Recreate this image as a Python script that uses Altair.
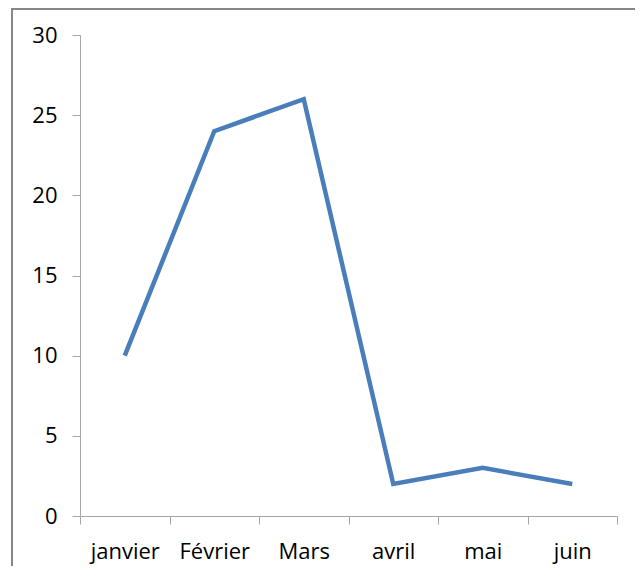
import altair as alt
import pandas as pd

months = ["janvier", "Février", "Mars", "avril", "mai", "juin"]
values = [10, 24, 26, 2, 3, 2]

df = pd.DataFrame({"mois": months, "valeur": values})

FONT = "Open Sans"
AXIS_COLOR = "#a6a6a6"

line = alt.Chart(df).mark_line(color="#4a7ebb", strokeWidth=4.5, strokeJoin="miter").encode(
    x=alt.X("mois:N", sort=months,
            scale=alt.Scale(type="band", paddingInner=0, paddingOuter=0),
            axis=alt.Axis(title=None, labelAngle=0, tickBand="extent", tickSize=8,
                          labelPadding=34, labelBaseline="alphabetic",
                          labelFont=FONT, labelFontSize=22, labelColor="#000000",
                          domainColor=AXIS_COLOR, tickColor=AXIS_COLOR,
                          domainWidth=1, tickWidth=1, grid=False)),
    y=alt.Y("valeur:Q",
            scale=alt.Scale(domain=[0, 30], nice=False, zero=True),
            axis=alt.Axis(title=None, values=[0, 5, 10, 15, 20, 25, 30], tickSize=8,
                          labelPadding=15, labelFont=FONT, labelFontSize=22,
                          labelColor="#000000", domainColor=AXIS_COLOR,
                          tickColor=AXIS_COLOR, domainWidth=1, tickWidth=1, grid=False)),
)

border = alt.Chart(pd.DataFrame({"a": [0]})).mark_rect(
    fill="transparent", stroke="#878787", strokeWidth=2
).encode(
    x=alt.value(-68), x2=alt.value(560), y=alt.value(-26), y2=alt.value(535)
)

chart = alt.layer(border, line).properties(
    width=537, height=481,
    autosize=alt.AutoSizeParams(type="none"),
    padding={"left": 72, "top": 27, "right": 18, "bottom": 50},
    background="white",
).configure_view(stroke="transparent", strokeWidth=0)

chart.save("out.html", embed_options={"renderer": "svg", "actions": False})
